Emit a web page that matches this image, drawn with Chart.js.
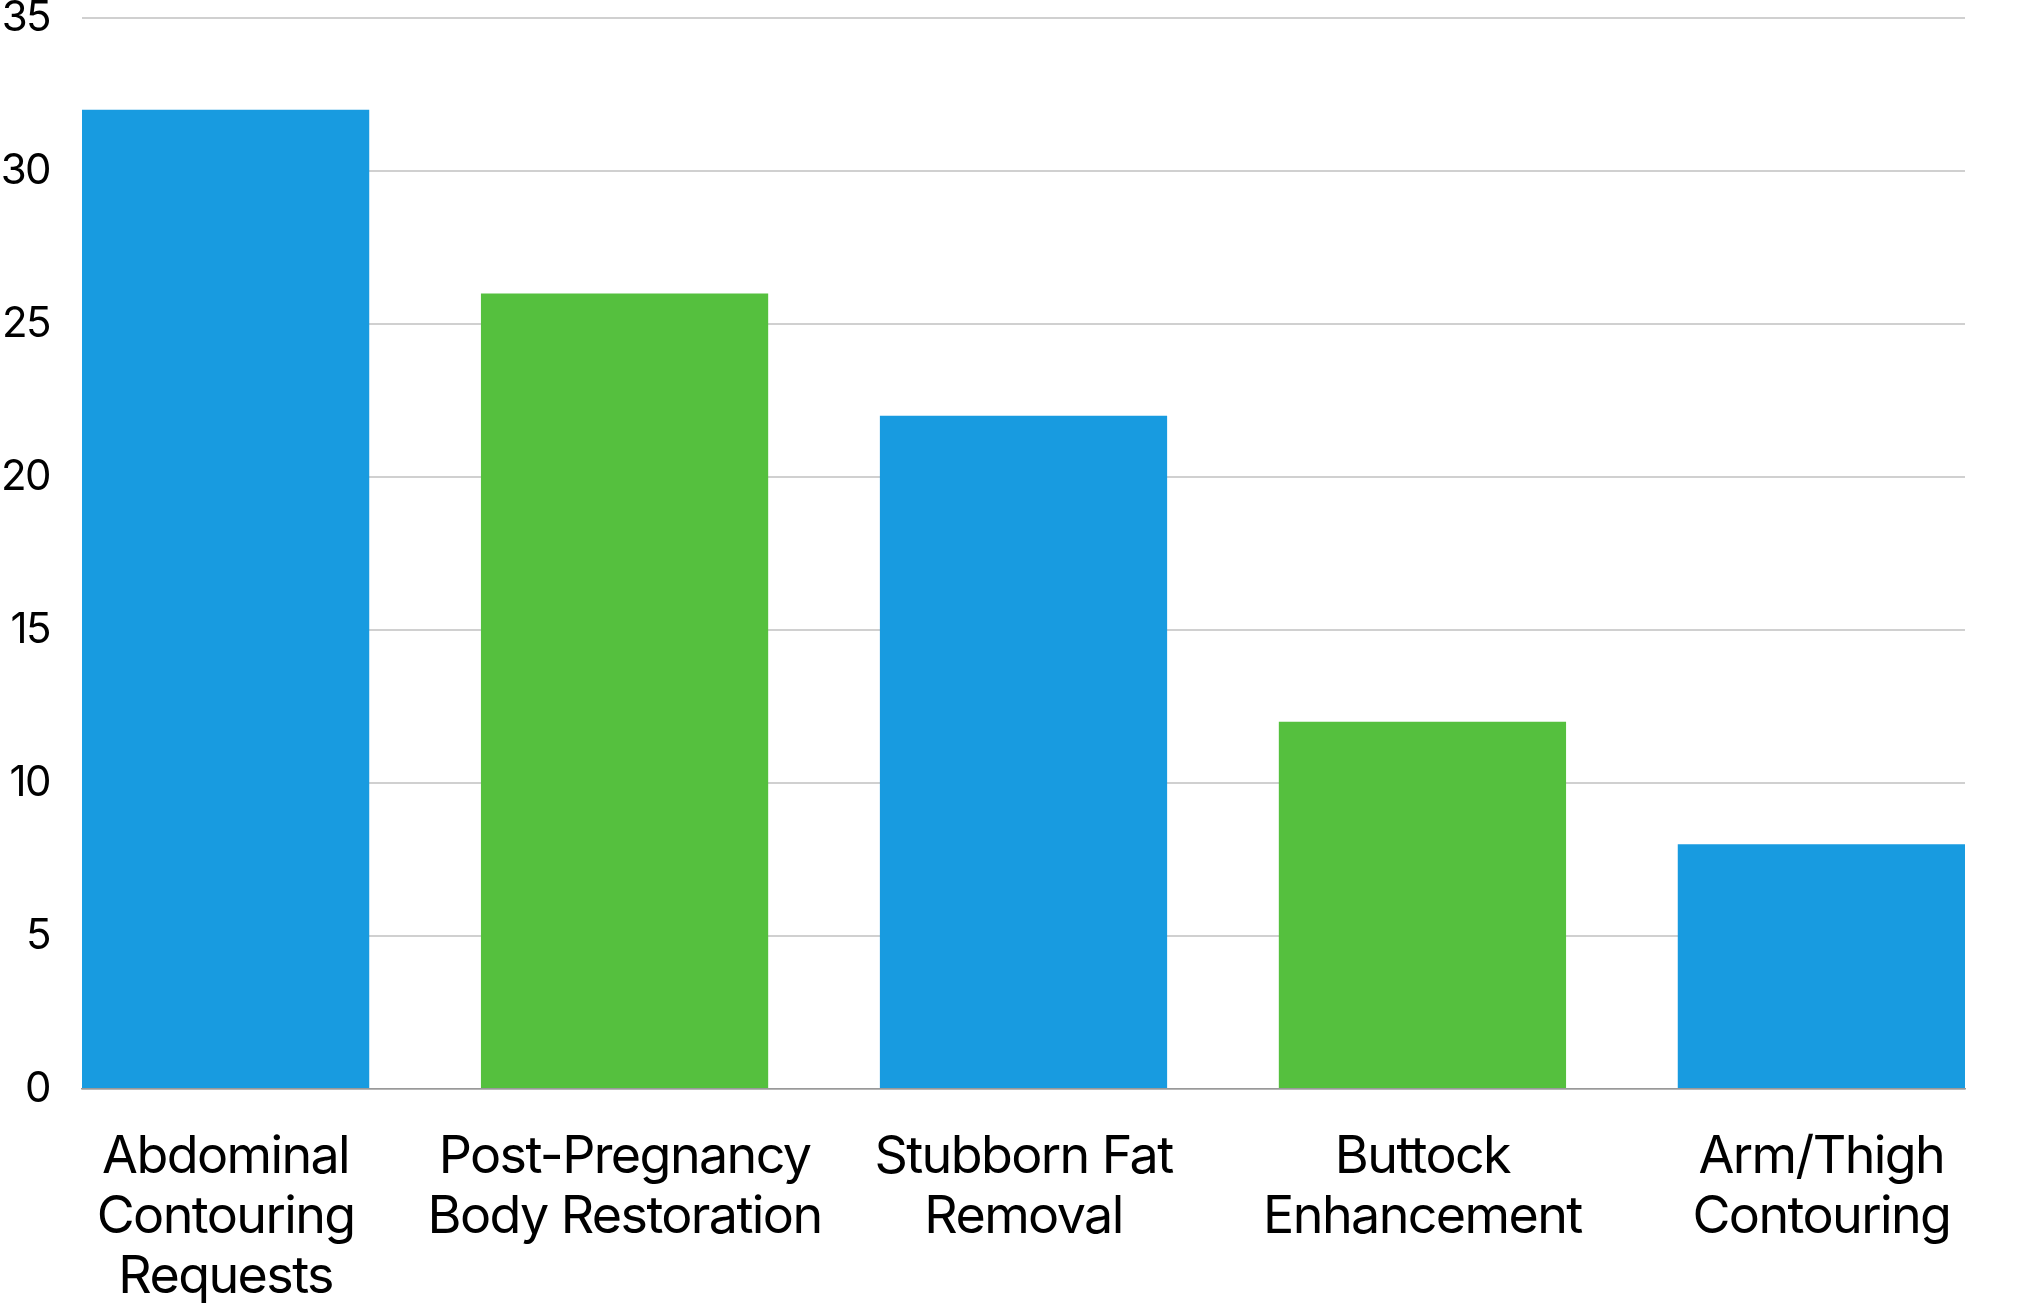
<!DOCTYPE html>
<html>
<head>
<meta charset="utf-8">
<title>Requests by procedure</title>
<script src="https://cdn.jsdelivr.net/npm/chart.js@4.4.1/dist/chart.umd.min.js"></script>
<style>
    html, body { margin: 0; padding: 0; background: #fff; }
    #wrap { width: 2017px; height: 1303px; position: relative; }
</style>
</head>
<body>
<div id="wrap"><canvas id="chart"></canvas></div>
<script>
// Dados do gráfico
const categories = [
    ['Abdominal', 'Contouring', 'Requests'],
    ['Post-Pregnancy', 'Body Restoration'],
    ['Stubborn Fat', 'Removal'],
    ['Buttock', 'Enhancement'],
    ['Arm/Thigh', 'Contouring']
];
const requestCounts = [32, 26, 22, 12, 8];
const barColors = ['#189be0', '#55c03e', '#189be0', '#55c03e', '#189be0'];
const yTicks = [0, 5, 10, 15, 20, 25, 30, 35];

// largura da barra em relação ao espaço de cada categoria
const barShare = 0.72;

// texto um pouco mais apertado (Inter em tamanho grande)
const tightText = {
    id: 'tightText',
    beforeUpdate(chart) { chart.ctx.letterSpacing = '-1.6px'; },
    beforeDraw(chart) { chart.ctx.letterSpacing = '-1.6px'; }
};

document.addEventListener('DOMContentLoaded', function() {
    Chart.defaults.font.family = 'Inter, "Noto Sans", sans-serif';
    Chart.defaults.color = '#000';

    const ctx = document.getElementById('chart');

    new Chart(ctx, {
        type: 'bar',
        plugins: [tightText],
        data: {
            datasets: [{
                data: requestCounts.map((v, i) => ({ x: i, y: v })),
                backgroundColor: barColors,
                borderWidth: 0,
                categoryPercentage: 1,
                barPercentage: barShare
            }]
        },
        options: {
            responsive: true,
            maintainAspectRatio: false,
            animation: false,
            layout: {
                padding: { top: 0, right: 52, bottom: 0, left: 0 }
            },
            scales: {
                x: {
                    type: 'linear',
                    offset: false,
                    min: -barShare / 2,
                    max: categories.length - 1 + barShare / 2,
                    afterBuildTicks: function(scale) {
                        scale.ticks = categories.map((c, i) => ({ value: i }));
                    },
                    afterFit: function(scale) {
                        scale.height = 214;
                        scale.paddingLeft = 0;
                        scale.paddingRight = 0;
                    },
                    grid: { display: false, drawTicks: false },
                    border: { display: true, color: '#999999', width: 1.5 },
                    ticks: {
                        autoSkip: false,
                        maxRotation: 0,
                        padding: 38,
                        font: { size: 52, lineHeight: 1.16 },
                        color: '#000',
                        callback: function(value) {
                            return categories[value];
                        }
                    }
                },
                y: {
                    min: yTicks[0],
                    max: yTicks[yTicks.length - 1],
                    afterBuildTicks: function(scale) {
                        scale.ticks = yTicks.map(v => ({ value: v }));
                    },
                    afterFit: function(scale) {
                        scale.width = 82;
                        scale.paddingTop = 18;
                        scale.paddingBottom = 0;
                    },
                    grid: {
                        color: '#d0d0d0',
                        lineWidth: 2,
                        drawTicks: false
                    },
                    border: { display: false },
                    ticks: {
                        padding: 32,
                        font: { size: 42 },
                        color: '#000'
                    }
                }
            },
            plugins: {
                legend: { display: false },
                tooltip: { enabled: false }
            }
        }
    });
});
</script>
</body>
</html>
